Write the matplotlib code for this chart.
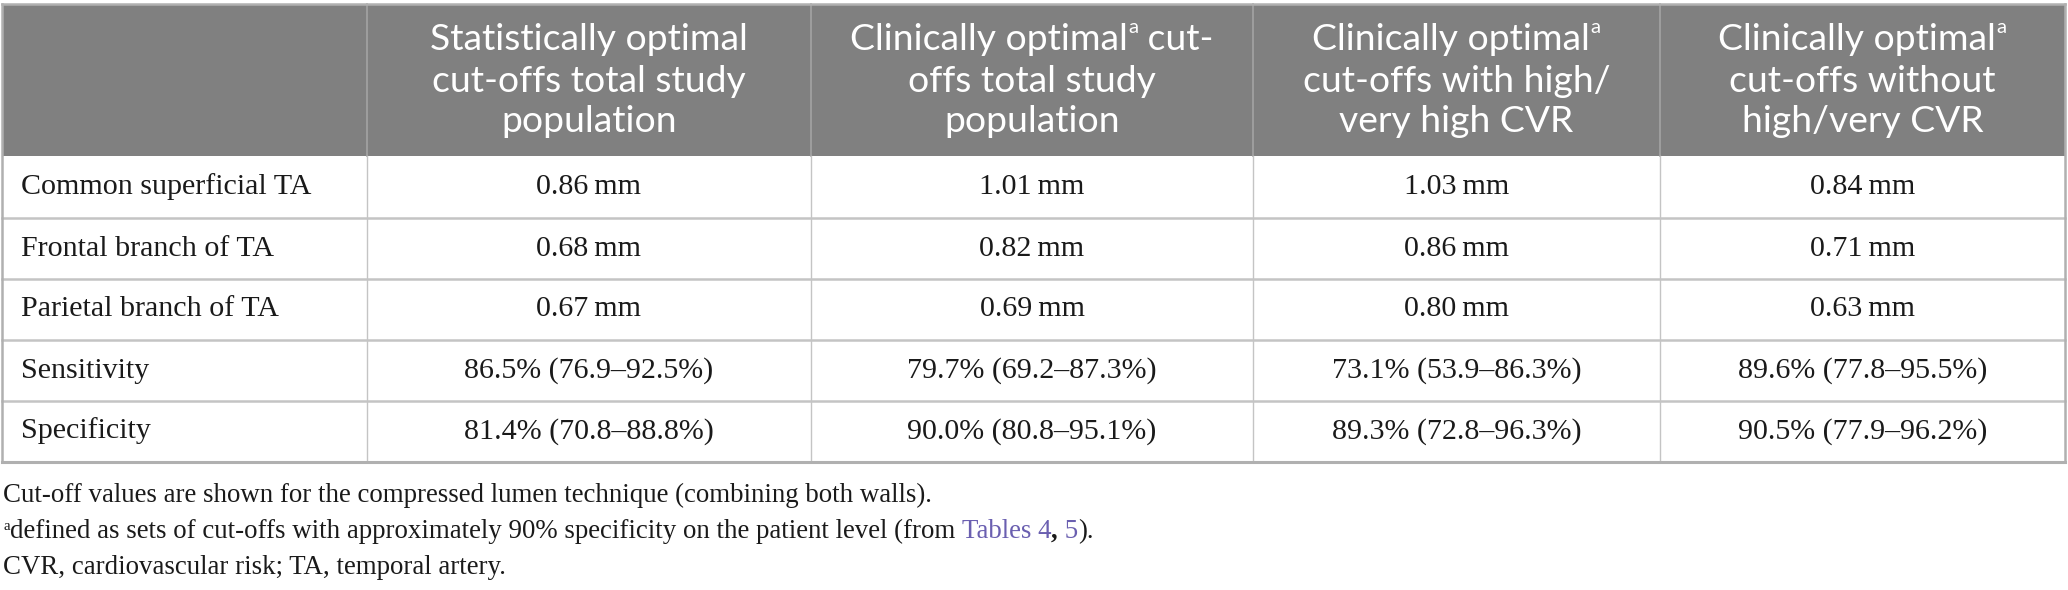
import matplotlib
matplotlib.use("Agg")
import matplotlib.pyplot as plt
from matplotlib.patches import Rectangle

# table content
headers = [
    [[("Statistically optimal", "")], [("cut-offs total study", "")], [("population", "")]],
    [[("Clinically optimal", ""), ("a", "sup"), (" cut-", "")], [("offs total study", "")], [("population", "")]],
    [[("Clinically optimal", ""), ("a", "sup")], [("cut-offs with high/", "")], [("very high CVR", "")]],
    [[("Clinically optimal", ""), ("a", "sup")], [("cut-offs without", "")], [("high/very CVR", "")]],
]
row_labels = ["Common superficial TA", "Frontal branch of TA", "Parietal branch of TA",
              "Sensitivity", "Specificity"]
col_stat_total = ["0.86\u2009mm", "0.68\u2009mm", "0.67\u2009mm", "86.5% (76.9\u201392.5%)", "81.4% (70.8\u201388.8%)"]
col_clin_total = ["1.01\u2009mm", "0.82\u2009mm", "0.69\u2009mm", "79.7% (69.2\u201387.3%)", "90.0% (80.8\u201395.1%)"]
col_clin_high = ["1.03\u2009mm", "0.86\u2009mm", "0.80\u2009mm", "73.1% (53.9\u201386.3%)", "89.3% (72.8\u201396.3%)"]
col_clin_low = ["0.84\u2009mm", "0.71\u2009mm", "0.63\u2009mm", "89.6% (77.8\u201395.5%)", "90.5% (77.9\u201396.2%)"]
columns = [col_stat_total, col_clin_total, col_clin_high, col_clin_low]

footnote1 = "Cut-off values are shown for the compressed lumen technique (combining both walls)."
footnote2 = [("a", "sup"), ("defined as sets of cut-offs with approximately 90% specificity on the patient level (from ", ""),
             ("Tables 4", "link"), (",", "bold"), (" 5", "link"), (").", "")]
footnote3 = "CVR, cardiovascular risk; TA, temporal artery."

W, H = 2068, 590
col_edges = [2, 367, 811, 1253, 1660, 2065]
row_edges = [4, 156, 218, 279, 340, 401, 462]
header_line_y = [37, 78, 118]
foot_base = [502, 538, 574]

SANS = ["Lato", "DejaVu Sans"]
SERIF = ["Liberation Serif", "DejaVu Serif"]
HEAD_BG = "#808080"
GRID = "#c4c4c4"
LINK = "#6a5fb0"
INK = "#1a1a1a"

fig = plt.figure(figsize=(W / 100, H / 100), dpi=100)
ax = fig.add_axes([0, 0, 1, 1])
ax.set_xlim(0, W)
ax.set_ylim(H, 0)
ax.axis("off")
renderer = fig.canvas.get_renderer()


def text_width(s, family, size, weight="normal"):
    t = ax.text(0, 0, s, family=family, fontsize=size, fontweight=weight)
    w = t.get_window_extent(renderer).width
    t.remove()
    return w


def fit(s, family, target):
    return 10 * target / text_width(s, family, 10)


head_fs = fit("Clinically optimal", SANS, 277)
body_fs = fit("Common superficial TA", SERIF, 290)
foot_fs = fit(footnote1, SERIF, 929)


def draw_runs(x, y, runs, family, size, color, ha="center", va="center_baseline"):
    widths = []
    for s, kind in runs:
        fs = size * 0.55 if kind == "sup" else size
        fw = "bold" if kind == "bold" else "normal"
        widths.append(text_width(s, family, fs, fw))
    total = sum(widths)
    cx = x - total / 2 if ha == "center" else x
    for (s, kind), w in zip(runs, widths):
        fs = size * 0.55 if kind == "sup" else size
        fw = "bold" if kind == "bold" else "normal"
        c = LINK if kind == "link" else color
        yy = y - size * 0.3 * 100 / 72 if kind == "sup" else y
        ax.text(cx, yy, s, family=family, fontsize=fs, fontweight=fw, color=c,
                ha="left", va=va)
        cx += w


# header background
ax.add_patch(Rectangle((col_edges[0], row_edges[0]), col_edges[-1] - col_edges[0],
                       row_edges[1] - row_edges[0], facecolor=HEAD_BG, edgecolor="none"))
for x in col_edges[1:-1]:
    ax.plot([x, x], [row_edges[0], row_edges[1]], color="#a3a3a3", lw=1.2)

for i, lines in enumerate(headers):
    cx = (col_edges[i + 1] + col_edges[i + 2]) / 2
    for runs, y in zip(lines, header_line_y):
        draw_runs(cx, y, runs, SANS, head_fs, "white")

# body grid
for y in row_edges[2:-1]:
    ax.plot([col_edges[0], col_edges[-1]], [y, y], color=GRID, lw=1.8)
for x in col_edges[1:-1]:
    ax.plot([x, x], [row_edges[1], row_edges[-1]], color=GRID, lw=1.0)
ax.plot([col_edges[0], col_edges[0], col_edges[-1], col_edges[-1]],
        [row_edges[0], row_edges[-1], row_edges[-1], row_edges[0]], color="#b0b0b0", lw=1.8)
ax.plot([col_edges[0], col_edges[-1]], [row_edges[0], row_edges[0]], color="#b0b0b0", lw=1.8)
ax.plot([col_edges[0], col_edges[-1]], [row_edges[-1], row_edges[-1]], color="#b0b0b0", lw=2.2)

for r, label in enumerate(row_labels):
    cy = (row_edges[r + 1] + row_edges[r + 2]) / 2 + 7
    ax.text(21, cy, label, family=SERIF, fontsize=body_fs, color=INK, va="baseline")
    for c, col in enumerate(columns):
        cx = (col_edges[c + 1] + col_edges[c + 2]) / 2
        ax.text(cx, cy, col[r], family=SERIF, fontsize=body_fs, color=INK,
                ha="center", va="baseline")

# footnotes
ax.text(3, foot_base[0], footnote1, family=SERIF, fontsize=foot_fs, color=INK, va="baseline")
draw_runs(3, foot_base[1], footnote2, SERIF, foot_fs, INK, ha="left", va="baseline")
ax.text(3, foot_base[2], footnote3, family=SERIF, fontsize=foot_fs, color=INK, va="baseline")

fig.savefig("out.png", dpi=100)
